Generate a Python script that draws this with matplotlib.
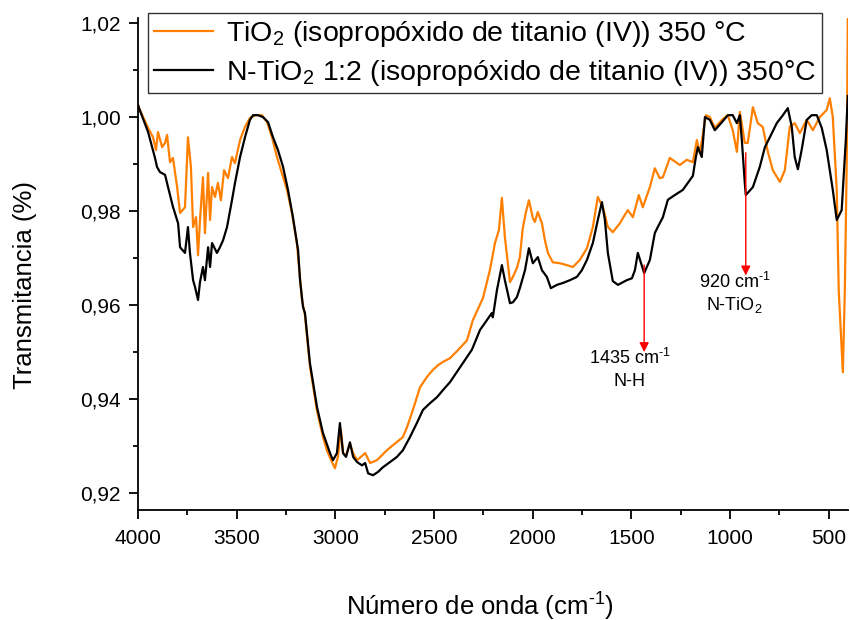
import matplotlib
matplotlib.use("Agg")
import matplotlib.pyplot as plt
from matplotlib.ticker import MultipleLocator, FuncFormatter

plt.rcParams['font.family'] = ['Liberation Sans', 'DejaVu Sans']
plt.rcParams['mathtext.fontset'] = 'custom'
plt.rcParams['mathtext.rm'] = 'Liberation Sans'

# FTIR spectra, wavenumber (cm-1) vs transmittance
wn_n = [4000, 3995, 3949, 3914, 3904, 3889, 3863, 3848, 3823, 3797, 3787, 3762, 3747, 3737,
        3721, 3711, 3696, 3686, 3671, 3661, 3645, 3635, 3625, 3600, 3585, 3569, 3549, 3524,
        3509, 3483, 3458, 3433, 3417, 3392, 3367, 3341, 3316, 3291, 3265, 3240, 3215, 3189,
        3179, 3164, 3154, 3129, 3093, 3063, 3027, 3012, 2992, 2977, 2961, 2946, 2926, 2910,
        2890, 2865, 2849, 2834, 2809, 2784, 2759, 2723, 2688, 2658, 2622, 2587, 2556, 2521,
        2485, 2455, 2419, 2308, 2267, 2207, 2202, 2181, 2156, 2141, 2115, 2100, 2080, 2065,
        2039, 2019, 1999, 1974, 1953, 1928, 1908, 1877, 1847, 1811, 1776, 1751, 1725, 1695,
        1670, 1649, 1634, 1619, 1594, 1568, 1523, 1497, 1482, 1467, 1435, 1406, 1381, 1366,
        1340, 1315, 1280, 1239, 1188, 1173, 1163, 1143, 1127, 1102, 1077, 1041, 1011, 986,
        965, 950, 940, 925, 920, 884, 849, 823, 798, 763, 732, 707, 687, 672, 656, 636, 611,
        586, 560, 535, 510, 479, 459, 434, 413, 403]
tr_n = [1.0026, 1.0019, 0.9968, 0.9913, 0.9894, 0.9883, 0.9877, 0.9851, 0.9809, 0.9774,
        0.9723, 0.9711, 0.9766, 0.9711, 0.9653, 0.9638, 0.9611, 0.9649, 0.9681, 0.9653,
        0.9723, 0.9681, 0.9732, 0.9711, 0.9723, 0.9738, 0.9766, 0.9823, 0.9859, 0.9915,
        0.9957, 0.9994, 1.0004, 1.0004, 1.0000, 0.9989, 0.9957, 0.9930, 0.9894, 0.9845,
        0.9787, 0.9717, 0.9653, 0.9596, 0.9583, 0.9477, 0.9383, 0.9328, 0.9285, 0.9270,
        0.9285, 0.9349, 0.9285, 0.9277, 0.9308, 0.9277, 0.9266, 0.9259, 0.9264, 0.9242,
        0.9238, 0.9245, 0.9255, 0.9266, 0.9277, 0.9291, 0.9319, 0.9349, 0.9377, 0.9391,
        0.9404, 0.9419, 0.9436, 0.9505, 0.9547, 0.9583, 0.9574, 0.9632, 0.9685, 0.9653,
        0.9604, 0.9606, 0.9617, 0.9636, 0.9674, 0.9721, 0.9689, 0.9702, 0.9674, 0.9660,
        0.9636, 0.9643, 0.9647, 0.9653, 0.9660, 0.9674, 0.9696, 0.9732, 0.9781, 0.9819,
        0.9781, 0.9711, 0.9651, 0.9643, 0.9653, 0.9657, 0.9674, 0.9711, 0.9668, 0.9696,
        0.9753, 0.9766, 0.9787, 0.9824, 0.9834, 0.9845, 0.9875, 0.9915, 0.9936, 0.9915,
        1.0000, 0.9994, 0.9972, 0.9989, 1.0004, 1.0004, 0.9987, 1.0004, 0.9951, 0.9860,
        0.9834, 0.9851, 0.9894, 0.9936, 0.9957, 0.9987, 1.0004, 1.0019, 0.9979, 0.9915,
        0.9889, 0.9932, 0.9994, 1.0004, 1.0004, 0.9977, 0.9930, 0.9845, 0.9781, 0.9802,
        0.9951, 1.0045]

wn_t = [4000, 3995, 3949, 3924, 3909, 3899, 3878, 3863, 3853, 3838, 3823, 3802, 3787, 3762,
        3747, 3732, 3721, 3706, 3696, 3686, 3671, 3661, 3645, 3635, 3625, 3610, 3595, 3580,
        3564, 3544, 3524, 3509, 3483, 3458, 3433, 3407, 3372, 3346, 3321, 3296, 3271, 3245,
        3220, 3195, 3169, 3154, 3129, 3093, 3063, 3043, 3017, 3002, 2987, 2972, 2961, 2946,
        2926, 2910, 2890, 2849, 2824, 2789, 2739, 2708, 2658, 2637, 2607, 2571, 2536, 2506,
        2480, 2455, 2419, 2379, 2333, 2303, 2252, 2217, 2191, 2171, 2156, 2141, 2115, 2100,
        2080, 2065, 2050, 2034, 2019, 1999, 1989, 1974, 1953, 1938, 1923, 1898, 1862, 1827,
        1796, 1761, 1725, 1695, 1670, 1644, 1619, 1594, 1558, 1543, 1518, 1492, 1462, 1442,
        1406, 1381, 1356, 1340, 1305, 1254, 1219, 1188, 1168, 1153, 1122, 1102, 1077, 1041,
        1011, 986, 965, 950, 925, 910, 884, 859, 834, 808, 783, 747, 722, 697, 672, 646, 611,
        580, 545, 510, 494, 479, 459, 449, 428, 418, 408, 403, 398]
tr_t = [1.0026, 1.0019, 0.9977, 0.9957, 0.9930, 0.9968, 0.9936, 0.9945, 0.9962, 0.9904,
        0.9913, 0.9851, 0.9796, 0.9808, 0.9957, 0.9894, 0.9766, 0.9787, 0.9706, 0.9781,
        0.9872, 0.9753, 0.9881, 0.9781, 0.9851, 0.9830, 0.9860, 0.9823, 0.9887, 0.9870,
        0.9915, 0.9902, 0.9951, 0.9979, 0.9998, 1.0004, 1.0004, 0.9989, 0.9957, 0.9915,
        0.9881, 0.9845, 0.9796, 0.9732, 0.9611, 0.9578, 0.9470, 0.9375, 0.9320, 0.9291,
        0.9266, 0.9253, 0.9277, 0.9335, 0.9285, 0.9280, 0.9305, 0.9285, 0.9270, 0.9285,
        0.9264, 0.9270, 0.9291, 0.9302, 0.9319, 0.9340, 0.9377, 0.9425, 0.9447, 0.9462,
        0.9472, 0.9479, 0.9487, 0.9504, 0.9525, 0.9568, 0.9615, 0.9674, 0.9732, 0.9760,
        0.9828, 0.9745, 0.9649, 0.9660, 0.9679, 0.9702, 0.9764, 0.9798, 0.9823, 0.9785,
        0.9777, 0.9798, 0.9774, 0.9738, 0.9711, 0.9691, 0.9689, 0.9685, 0.9681, 0.9696,
        0.9721, 0.9766, 0.9830, 0.9808, 0.9766, 0.9755, 0.9774, 0.9785, 0.9802, 0.9787,
        0.9834, 0.9808, 0.9851, 0.9891, 0.9870, 0.9872, 0.9913, 0.9898, 0.9909, 0.9904,
        0.9951, 0.9923, 1.0004, 1.0000, 0.9977, 0.9994, 1.0004, 0.9972, 0.9926, 1.0011,
        0.9945, 0.9945, 1.0021, 0.9987, 0.9979, 0.9926, 0.9887, 0.9862, 0.9887, 0.9979,
        0.9987, 0.9966, 0.9994, 0.9972, 1.0000, 1.0015, 1.0040, 1.0000, 0.9845, 0.9632,
        0.9457, 0.9632, 0.9915, 1.0210, 1.0300]

label_t = r'TiO$_2$ (isopropóxido de titanio (IV)) 350 °C'
label_n = r'N-TiO$_2$ 1:2 (isopropóxido de titanio (IV)) 350°C'
inv_cm = r'cm$^{\text{-}1}$'

fig = plt.figure(figsize=(8.5, 6.2), dpi=100)
ax = fig.add_axes([0.1624, 0.1774, 0.835, 0.793])

ax.plot(wn_t, tr_t, color='#FF8000', lw=1.6, label=label_t)
ax.plot(wn_n, tr_n, color='black', lw=1.6, label=label_n)

ax.set_xlim(4000, 403)
ax.set_ylim(0.9164, 1.021)

ax.xaxis.set_major_locator(MultipleLocator(500))
ax.xaxis.set_minor_locator(MultipleLocator(250))
ax.yaxis.set_major_locator(MultipleLocator(0.02))
ax.yaxis.set_minor_locator(MultipleLocator(0.01))
ax.yaxis.set_major_formatter(FuncFormatter(lambda v, p: f'{v:.2f}'.replace('.', ',')))

for s in ['top', 'right']:
    ax.spines[s].set_visible(False)
for s in ['left', 'bottom']:
    ax.spines[s].set_linewidth(1.3)
ax.tick_params(which='major', direction='out', length=6.5, width=1.3, labelsize=15)
ax.tick_params(axis='x', which='major', pad=7)
ax.tick_params(axis='y', which='major', pad=6)
ax.tick_params(which='minor', direction='out', length=3.5, width=1.3)

ax.set_xlabel('Número de onda (' + inv_cm + ')', fontsize=18.5)
ax.set_ylabel('Transmitancia (%)', fontsize=18.5)
ax.xaxis.set_label_coords(0.482, -0.16)
ax.yaxis.set_label_coords(-0.143, 0.457)

# band markers
arrow = dict(arrowstyle='-|>', color='red', lw=1.0, mutation_scale=14)
ax.annotate('', xy=(1435, 0.9494), xytext=(1435, 0.9691), arrowprops=arrow)
ax.text(1508, 0.9487, '1435 ' + inv_cm, ha='center', va='center', fontsize=13)
ax.text(1508, 0.9437, 'N-H', ha='center', va='center', fontsize=13)
ax.annotate('', xy=(920, 0.9657), xytext=(920, 0.9930), arrowprops=arrow)
ax.text(976, 0.9650, '920 ' + inv_cm, ha='center', va='center', fontsize=13)
ax.text(976, 0.9600, 'N-TiO$_2$', ha='center', va='center', fontsize=13)

leg = ax.legend(loc='upper left', bbox_to_anchor=(0.014, 1.01), borderaxespad=0,
                fontsize=20.5, frameon=True, fancybox=False, handlelength=2.1,
                handletextpad=0.45, borderpad=0.2, labelspacing=0.3)
leg.get_frame().set_edgecolor('black')
leg.get_frame().set_linewidth(1.0)

fig.savefig('out.png', dpi=100)
